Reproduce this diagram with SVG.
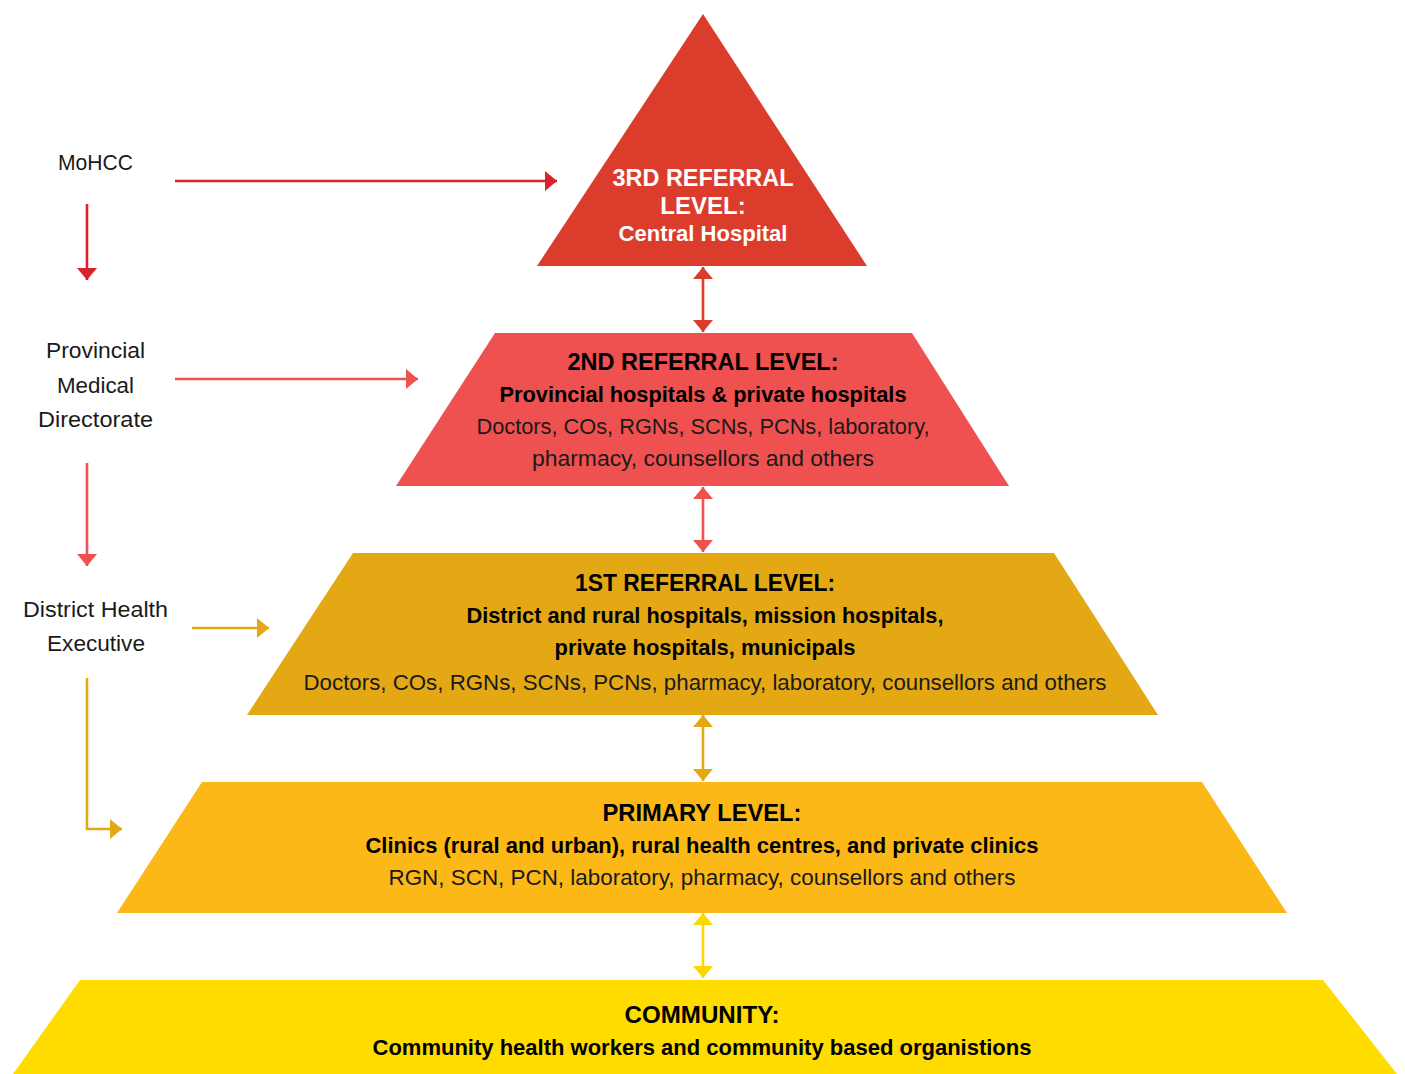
<svg xmlns="http://www.w3.org/2000/svg" width="1405" height="1074" viewBox="0 0 1405 1074">
<style>
  .lbl { font-family: "Liberation Sans", Arial, sans-serif; font-size: 22px; fill: #1a1a1a; text-anchor: middle; }
  .h { font-family: "Liberation Sans", Arial, sans-serif; font-weight: bold; font-size: 24px; fill: #000; text-anchor: middle; }
  .b { font-family: "Liberation Sans", Arial, sans-serif; font-weight: bold; font-size: 22px; fill: #000; text-anchor: middle; }
  .r { font-family: "Liberation Sans", Arial, sans-serif; font-size: 22px; fill: #1a1a1a; text-anchor: middle; }
  .w { fill: #fff; }
  .c { fill: none; stroke-width: 2.6; }
</style>
<defs>
  <marker id="mR" viewBox="0 0 12 20" refX="12" refY="10" markerWidth="12" markerHeight="20" markerUnits="userSpaceOnUse" orient="auto-start-reverse"><path d="M0,0 L12,10 L0,20 Z" fill="#d9232b"/></marker>
  <marker id="mR2" viewBox="0 0 12 20" refX="12" refY="10" markerWidth="12" markerHeight="20" markerUnits="userSpaceOnUse" orient="auto-start-reverse"><path d="M0,0 L12,10 L0,20 Z" fill="#dc3c2c"/></marker>
  <marker id="mP" viewBox="0 0 12 20" refX="12" refY="10" markerWidth="12" markerHeight="20" markerUnits="userSpaceOnUse" orient="auto-start-reverse"><path d="M0,0 L12,10 L0,20 Z" fill="#ef5050"/></marker>
  <marker id="mO" viewBox="0 0 12 20" refX="12" refY="10" markerWidth="12" markerHeight="20" markerUnits="userSpaceOnUse" orient="auto-start-reverse"><path d="M0,0 L12,10 L0,20 Z" fill="#e3a814"/></marker>
  <marker id="mY" viewBox="0 0 12 20" refX="12" refY="10" markerWidth="12" markerHeight="20" markerUnits="userSpaceOnUse" orient="auto-start-reverse"><path d="M0,0 L12,10 L0,20 Z" fill="#fcd800"/></marker>
</defs>

<g id="level3">
  <polygon points="703,14 867,266 537,266" fill="#dc3c2c"/>
  <text class="h w" x="703" y="186" textLength="181" lengthAdjust="spacingAndGlyphs">3RD REFERRAL</text>
  <text class="h w" x="703" y="214">LEVEL:</text>
  <text class="b w" x="703" y="241" textLength="169" lengthAdjust="spacingAndGlyphs">Central Hospital</text>
</g>

<g id="level2">
  <polygon points="495,333 912,333 1009,486 396,486" fill="#ef5050"/>
  <text class="h" x="703" y="370" textLength="271" lengthAdjust="spacingAndGlyphs">2ND REFERRAL LEVEL:</text>
  <text class="b" x="703" y="402" textLength="407" lengthAdjust="spacingAndGlyphs">Provincial hospitals &amp; private hospitals</text>
  <text class="r" x="703" y="434" textLength="453" lengthAdjust="spacingAndGlyphs">Doctors, COs, RGNs, SCNs, PCNs, laboratory,</text>
  <text class="r" x="703" y="466" textLength="342" lengthAdjust="spacingAndGlyphs">pharmacy, counsellors and others</text>
</g>

<g id="level1">
  <polygon points="353,553 1054,553 1158,715 247,715" fill="#e3a814"/>
  <text class="h" x="705" y="591" textLength="260" lengthAdjust="spacingAndGlyphs">1ST REFERRAL LEVEL:</text>
  <text class="b" x="705" y="623" textLength="477" lengthAdjust="spacingAndGlyphs">District and rural hospitals, mission hospitals,</text>
  <text class="b" x="705" y="655" textLength="301" lengthAdjust="spacingAndGlyphs">private hospitals, municipals</text>
  <text class="r" x="705" y="690" textLength="803" lengthAdjust="spacingAndGlyphs">Doctors, COs, RGNs, SCNs, PCNs, pharmacy, laboratory, counsellors and others</text>
</g>

<g id="primary">
  <polygon points="202,782 1202,782 1287,913 117,913" fill="#fbb817"/>
  <text class="h" x="702" y="821" textLength="199" lengthAdjust="spacingAndGlyphs">PRIMARY LEVEL:</text>
  <text class="b" x="702" y="853" textLength="673" lengthAdjust="spacingAndGlyphs">Clinics (rural and urban), rural health centres, and private clinics</text>
  <text class="r" x="702" y="885" textLength="627" lengthAdjust="spacingAndGlyphs">RGN, SCN, PCN, laboratory, pharmacy, counsellors and others</text>
</g>

<g id="community">
  <polygon points="80,980 1323,980 1397,1074 13,1074" fill="#fedc00"/>
  <text class="h" x="702" y="1023" textLength="155" lengthAdjust="spacingAndGlyphs">COMMUNITY:</text>
  <text class="b" x="702" y="1055" textLength="659" lengthAdjust="spacingAndGlyphs">Community health workers and community based organistions</text>
</g>

<g id="mohcc">
  <text class="lbl" x="95.5" y="170" textLength="75" lengthAdjust="spacingAndGlyphs">MoHCC</text>
</g>
<g id="pmd">
  <text class="lbl" x="95.5" y="358" textLength="99" lengthAdjust="spacingAndGlyphs">Provincial</text>
  <text class="lbl" x="95.5" y="393" textLength="77" lengthAdjust="spacingAndGlyphs">Medical</text>
  <text class="lbl" x="95.5" y="427" textLength="115" lengthAdjust="spacingAndGlyphs">Directorate</text>
</g>
<g id="dhe">
  <text class="lbl" x="95.5" y="617" textLength="145" lengthAdjust="spacingAndGlyphs">District Health</text>
  <text class="lbl" x="96" y="651" textLength="98" lengthAdjust="spacingAndGlyphs">Executive</text>
</g>

<g id="connectors">
  <line class="c" x1="175" y1="181" x2="557" y2="181" stroke="#d9232b" marker-end="url(#mR)"/>
  <line class="c" x1="87" y1="204" x2="87" y2="280" stroke="#d9232b" marker-end="url(#mR)"/>
  <line class="c" x1="175" y1="379" x2="418" y2="379" stroke="#ef5050" marker-end="url(#mP)"/>
  <line class="c" x1="87" y1="463" x2="87" y2="566" stroke="#ef5050" marker-end="url(#mP)"/>
  <line class="c" x1="192" y1="628" x2="269" y2="628" stroke="#e3a814" marker-end="url(#mO)"/>
  <path class="c" d="M87,678 L87,829 L122,829" stroke="#e3a814" marker-end="url(#mO)"/>
  <line class="c" x1="703" y1="267" x2="703" y2="332" stroke="#dc3c2c" marker-start="url(#mR2)" marker-end="url(#mR2)"/>
  <line class="c" x1="703" y1="487" x2="703" y2="552" stroke="#ef5050" marker-start="url(#mP)" marker-end="url(#mP)"/>
  <line class="c" x1="703" y1="715" x2="703" y2="781" stroke="#e3a814" marker-start="url(#mO)" marker-end="url(#mO)"/>
  <line class="c" x1="703" y1="913" x2="703" y2="978" stroke="#fcd800" marker-start="url(#mY)" marker-end="url(#mY)"/>
</g>
</svg>
